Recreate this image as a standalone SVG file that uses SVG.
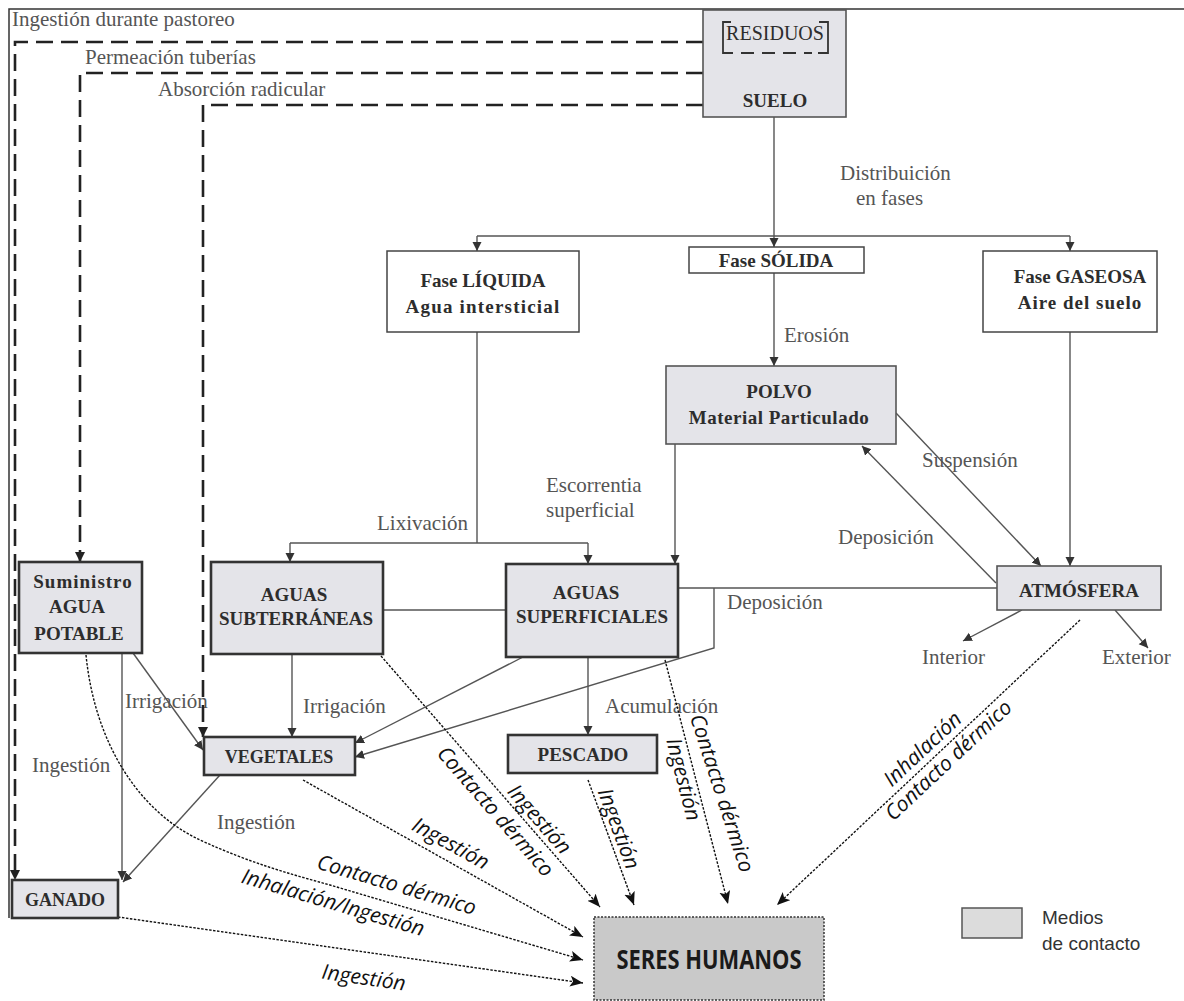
<svg xmlns="http://www.w3.org/2000/svg" width="1184" height="1001" viewBox="0 0 1184 1001">
<style>
.bw{fill:#fff;stroke:#444;stroke-width:1.5}
.bg{fill:#e4e4e9;stroke:#333;stroke-width:2.6}
.bgt{fill:#e4e4e9;stroke:#555;stroke-width:1.6}
.nt{font-family:"Liberation Serif",serif;font-weight:bold;font-size:19px;fill:#2d2d2d;text-anchor:middle}
.lb{font-family:"Liberation Serif",serif;font-size:21px;fill:#555}
.it{font-family:"Open Sans","Liberation Sans",sans-serif;font-style:italic;font-size:21px;fill:#111}
.c{fill:none;stroke:#555;stroke-width:1.4}
.ca{fill:none;stroke:#555;stroke-width:1.4;marker-end:url(#ah)}
.d{fill:none;stroke:#222;stroke-width:2.6;stroke-dasharray:17 8;marker-end:url(#ad)}
.p{fill:none;stroke:#111;stroke-width:1.4;stroke-dasharray:2.5 1.5;marker-end:url(#ap)}
</style>
<defs>
<marker id="ah" markerUnits="userSpaceOnUse" markerWidth="10" markerHeight="10" refX="9" refY="4.5" orient="auto"><path d="M0,0 L9,4.5 L0,9 z" fill="#333"/></marker>
<marker id="ad" markerUnits="userSpaceOnUse" markerWidth="11" markerHeight="11" refX="10" refY="5" orient="auto"><path d="M0,0 L10,5 L0,10 z" fill="#222"/></marker>
<marker id="ap" markerUnits="userSpaceOnUse" markerWidth="14" markerHeight="12" refX="13" refY="5.5" orient="auto"><path d="M0,0 L13,5.5 L0,11 L3,5.5 z" fill="#111"/></marker>
</defs>
<rect width="1184" height="1001" fill="#fff"/>
<g id="frame"><path d="M9,918 V9 H1184" fill="none" stroke="#333" stroke-width="1.5"/></g>

<g id="labels">
<text class="lb" x="12" y="26">Ingestión durante pastoreo</text>
<text class="lb" x="85" y="64">Permeación tuberías</text>
<text class="lb" x="158" y="96">Absorción radicular</text>
<text class="lb" x="840" y="180">Distribuición</text>
<text class="lb" x="856" y="205">en fases</text>
<text class="lb" x="784" y="342">Erosión</text>
<text class="lb" x="377" y="530">Lixivación</text>
<text class="lb" x="546" y="492">Escorrentia</text>
<text class="lb" x="546" y="517">superficial</text>
<text class="lb" x="922" y="467">Suspensión</text>
<text class="lb" x="838" y="544">Deposición</text>
<text class="lb" x="727" y="609">Deposición</text>
<text class="lb" x="125" y="708">Irrigación</text>
<text class="lb" x="303" y="713">Irrigación</text>
<text class="lb" x="32" y="772">Ingestión</text>
<text class="lb" x="605" y="713">Acumulación</text>
<text class="lb" x="217" y="829">Ingestión</text>
<text class="lb" x="922" y="664">Interior</text>
<text class="lb" x="1102" y="664">Exterior</text>
</g>

<g id="connectors">
<path class="c" d="M774,117 V236"/>
<path class="c" d="M477,236 H1070"/>
<path class="ca" d="M477,236 V251"/>
<path class="ca" d="M774,236 V247"/>
<path class="ca" d="M1070,236 V251"/>
<path class="ca" d="M774,273 V366"/>
<path class="c" d="M477,332 V543 M290,543 H588"/>
<path class="ca" d="M290,543 V562"/>
<path class="ca" d="M588,543 V564"/>
<path class="ca" d="M675,444 V564"/>
<path class="ca" d="M1070,332 V566"/>
<path class="ca" d="M896,413 L1041,566"/>
<path class="ca" d="M996,583 L862,446"/>
<path class="c" d="M678,588 H997"/>
<path class="ca" d="M714,588 V648 L355,757"/>
<path class="ca" d="M523,657 L355,743"/>
<path class="c" d="M383,610 H506"/>
<path class="ca" d="M292,654 V737"/>
<path class="ca" d="M133,653 L203,750"/>
<path class="ca" d="M122,653 V880"/>
<path class="ca" d="M220,775 L123,882"/>
<path class="ca" d="M588,657 V735"/>
<path class="ca" d="M1022,610 L963,641"/>
<path class="ca" d="M1115,610 L1148,648"/>
<path class="d" d="M703,42 H15 V880"/>
<path class="d" d="M703,73 H80 V562"/>
<path class="d" d="M703,105 H203 V737"/>
<path class="p" d="M381,656 L600,907"/>
<path class="p" d="M588,780 L634,905"/>
<path class="p" d="M665,660 L728,904"/>
<path class="p" d="M1080,620 L777,905"/>
<path class="p" d="M303,780 L583,937"/>
<path class="p" d="M86,655 C95,745 140,812 200,840 C250,863 290,874 330,885 L583,960"/>
<path class="p" d="M118,917 L583,983"/>
</g>

<g id="contact-labels">
<g transform="translate(303,780) rotate(29)"><text class="it" x="160" y="-9" text-anchor="middle">Ingestión</text></g>
<g transform="translate(330,885) rotate(16.5)"><text class="it" x="64" y="-12" text-anchor="middle">Contacto dérmico</text><text class="it" x="8" y="23" text-anchor="middle">Inhalación/Ingestión</text></g>
<g transform="translate(118,917) rotate(8.2)"><text class="it" x="252" y="32" text-anchor="middle">Ingestión</text></g>
<g transform="translate(381,656) rotate(48.9)"><text class="it" x="110" y="23">Contacto dérmico</text><text class="it" x="185" y="-5">Ingestión</text></g>
<g transform="translate(588,780) rotate(69.8)"><text class="it" x="14" y="-5">Ingestión</text></g>
<g transform="translate(665,660) rotate(72)"><text class="it" x="62" y="-6">Contacto dérmico</text></g>
<g transform="translate(665,660) rotate(75.5)"><text class="it" x="78" y="19">Ingestión</text></g>
<g transform="translate(777,905) rotate(-43.2)"><text class="it" x="213" y="-7" text-anchor="middle">Inhalación</text><text class="it" x="224" y="19" text-anchor="middle">Contacto dérmico</text></g>
</g>

<g id="suelo">
<rect class="bgt" x="703" y="10" width="143" height="107"/>
<path d="M731,22 H723 V53 H733 M819,22 H828 V53 H818" fill="none" stroke="#333" stroke-width="1.8"/>
<path d="M741,53 H812" fill="none" stroke="#333" stroke-width="1.8" stroke-dasharray="13 8"/>
<text class="nt" x="775" y="40" style="font-weight:normal;font-size:20px">RESIDUOS</text>
<text class="nt" x="775" y="107">SUELO</text>
</g>
<g id="fase-liquida">
<rect class="bw" x="387" y="251" width="192" height="81"/>
<text class="nt" x="483" y="287">Fase LÍQUIDA</text>
<text class="nt" x="483" y="313" letter-spacing="1.2">Agua intersticial</text>
</g>
<g id="fase-solida">
<rect class="bw" x="689" y="247" width="175" height="26"/>
<text class="nt" x="776" y="267">Fase SÓLIDA</text>
</g>
<g id="fase-gaseosa">
<rect class="bw" x="983" y="251" width="174" height="81"/>
<text class="nt" x="1080" y="283">Fase GASEOSA</text>
<text class="nt" x="1080" y="309" letter-spacing="1">Aire del suelo</text>
</g>
<g id="polvo">
<rect class="bgt" x="666" y="366" width="230" height="78"/>
<text class="nt" x="779" y="398">POLVO</text>
<text class="nt" x="779" y="424" letter-spacing="0.5">Material Particulado</text>
</g>
<g id="atmosfera">
<rect class="bgt" x="997" y="566" width="164" height="44"/>
<text class="nt" x="1079" y="597">ATMÓSFERA</text>
</g>
<g id="agua-potable">
<rect class="bg" x="19" y="562" width="123" height="91"/>
<text class="nt" x="83" y="588" letter-spacing="1">Suministro</text>
<text class="nt" x="77" y="613">AGUA</text>
<text class="nt" x="79" y="640">POTABLE</text>
</g>
<g id="aguas-subterraneas">
<rect class="bg" x="211" y="562" width="172" height="92"/>
<text class="nt" x="294" y="601">AGUAS</text>
<text class="nt" x="296" y="625">SUBTERRÁNEAS</text>
</g>
<g id="aguas-superficiales">
<rect class="bg" x="506" y="564" width="172" height="93"/>
<text class="nt" x="586" y="599">AGUAS</text>
<text class="nt" x="592" y="623">SUPERFICIALES</text>
</g>
<g id="vegetales">
<rect class="bg" x="204" y="737" width="151" height="38"/>
<text class="nt" x="279" y="763" style="font-size:18px">VEGETALES</text>
</g>
<g id="pescado">
<rect class="bg" x="508" y="735" width="149" height="38"/>
<text class="nt" x="583" y="761">PESCADO</text>
</g>
<g id="ganado">
<rect class="bg" x="12" y="880" width="106" height="38"/>
<text class="nt" x="65" y="906" style="font-size:18px">GANADO</text>
</g>
<g id="seres-humanos">
<rect x="594" y="917" width="230" height="83" fill="#c9c9c9" stroke="#333" stroke-width="1.5" stroke-dasharray="2 1.5"/>
<text x="709" y="969" font-family="'Open Sans','Liberation Sans',sans-serif" font-weight="bold" font-size="27" fill="#1a1a1a" text-anchor="middle" textLength="185" lengthAdjust="spacingAndGlyphs">SERES HUMANOS</text>
</g>
<g id="legend">
<rect x="962" y="908" width="60" height="30" fill="#dcdcdc" stroke="#555" stroke-width="1.5"/>
<text x="1042" y="924" font-family="'Liberation Sans',sans-serif" font-size="19" fill="#333">Medios</text>
<text x="1042" y="950" font-family="'Liberation Sans',sans-serif" font-size="19" fill="#333">de contacto</text>
</g>
</svg>
